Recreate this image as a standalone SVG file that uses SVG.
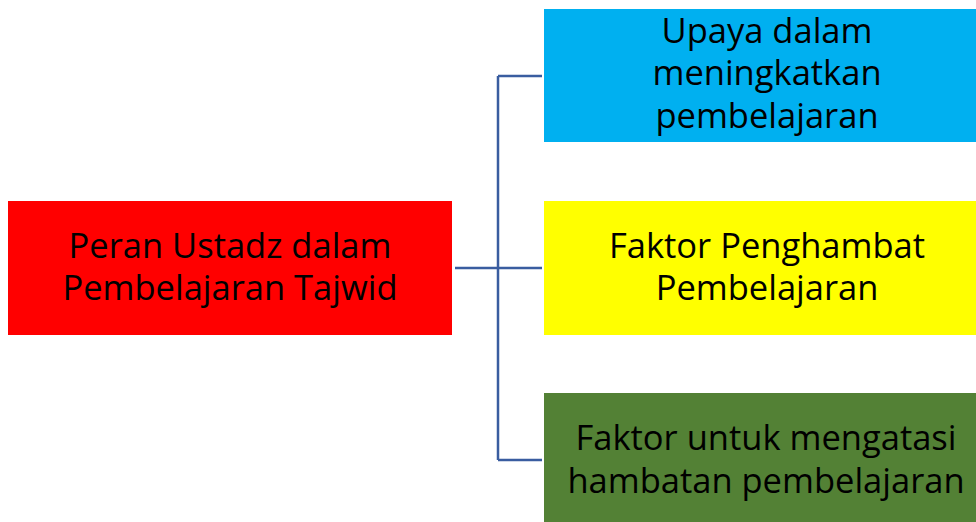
<svg xmlns="http://www.w3.org/2000/svg" width="976" height="522" viewBox="0 0 976 522">
<style>
.t{font-family:"Open Sans","Liberation Sans",sans-serif;font-size:34.5px;fill:#000;text-anchor:middle}
.c{fill:none;stroke:#3A5DA0;stroke-width:2.5}
</style>
<rect width="976" height="522" fill="#fff"/>
<g id="connectors">
<path class="c" d="M455 268H542M498 76V460M498 76H542M498 460H542"/>
</g>
<g id="root">
<rect x="8" y="201" width="444" height="134" fill="#FF0000"/>
<text class="t" x="230" y="258">Peran Ustadz dalam</text>
<text class="t" x="230" y="300">Pembelajaran Tajwid</text>
</g>
<g id="upaya">
<rect x="544" y="9" width="432" height="133" fill="#00B0F0"/>
<text class="t" x="767" y="43">Upaya dalam</text>
<text class="t" x="767" y="85">meningkatkan</text>
<text class="t" x="767" y="128">pembelajaran</text>
</g>
<g id="penghambat">
<rect x="544" y="201" width="432" height="134" fill="#FFFF00"/>
<text class="t" x="767" y="258">Faktor Penghambat</text>
<text class="t" x="767" y="300">Pembelajaran</text>
</g>
<g id="mengatasi">
<rect x="544" y="393" width="432" height="129" fill="#538135"/>
<text class="t" x="766" y="450">Faktor untuk mengatasi</text>
<text class="t" x="766" y="493">hambatan pembelajaran</text>
</g>
</svg>
